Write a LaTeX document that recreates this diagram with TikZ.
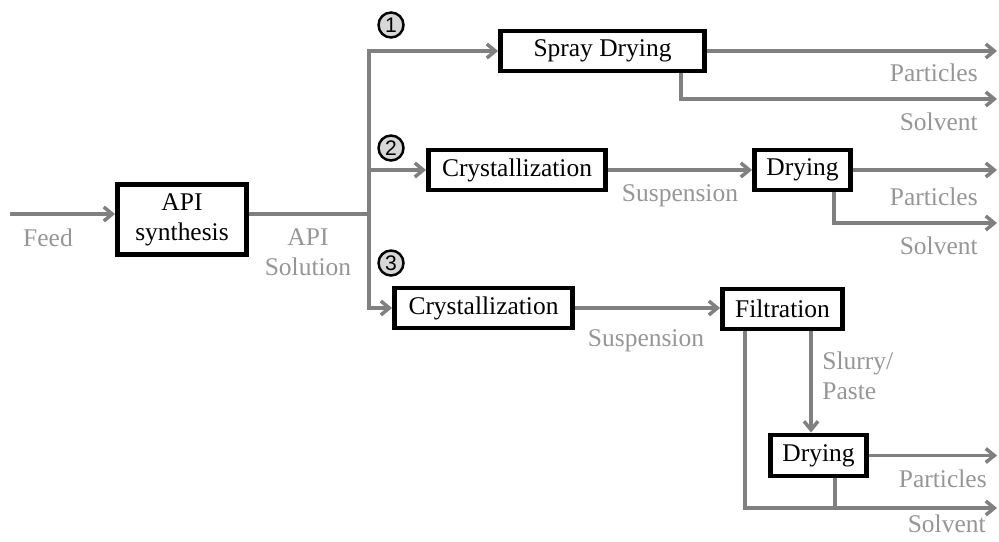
\documentclass[tikz,border=0pt]{standalone}
\usepackage{fontspec}
\setmainfont{Liberation Serif}
\newfontfamily\numfont{Liberation Sans}
\usetikzlibrary{arrows.meta}
\definecolor{pipegray}{RGB}{128,128,128}
\definecolor{labelgray}{RGB}{150,150,150}
\definecolor{roundgray}{RGB}{215,215,215}

\begin{document}
\begin{tikzpicture}[
		x=0.02cm, y=-0.02cm,
		unit/.style={draw, line width=2.8pt, fill=white, inner sep=0pt, minimum height=0.8cm, align=center, font=\fontsize{14.5}{17}\selectfont},
		pipe/.style={draw=pipegray, line width=2pt},
		flow/.style={pipe, -{Straight Barb[length=1.7mm,width=2.8mm]}},
		stream/.style={text=labelgray, inner sep=0pt, align=left, font=\fontsize{14.5}{17}\selectfont},
		route/.style={circle, draw, line width=1.4pt, fill=roundgray, inner sep=0pt, minimum size=0.5cm, font=\numfont\fontsize{12}{12}\selectfont}
		]
		\useasboundingbox (0,0) rectangle (999,541);
		% Synthesis
		\node[unit, minimum width=2.58cm, minimum height=1.4cm] (api) at (182,219.5) {API\\synthesis};
		% Route 1
		\node[unit, minimum width=4.08cm] (spray) at (602.5,51) {Spray Drying};
		% Route 2
		\node[unit, minimum width=3.54cm] (cryst2) at (517,170) {Crystallization};
		\node[unit, minimum width=1.92cm] (dry2) at (802.5,170) {Drying};
		% Route 3
		\node[unit, minimum width=3.56cm] (cryst3) at (483.5,308) {Crystallization};
		\node[unit, minimum width=2.4cm] (filt) at (782.5,309) {Filtration};
		\node[unit, minimum width=1.92cm, minimum height=0.82cm] (dry3) at (818.5,455.5) {Drying};
		
		% Route numbers
		\node[route] (r1) at (391,25) {1};
		\node[route] (r2) at (391,148) {2};
		\node[route] (r3) at (391,263) {3};
		
		% Stream labels
		\node[stream] (feedlbl) at (48,238) {Feed};
		\node[stream, align=center] (sollbl) at (308,252) {API\\Solution};
		\node[stream] (susp2) at (680,196) {Suspension};
		\node[stream] (susp3) at (646,341) {Suspension};
		\node[stream, anchor=west] (slurry) at (822,376) {Slurry/\\Paste};
		\node[stream, anchor=east] (part1) at (978,73) {Particles};
		\node[stream, anchor=east] (solv1) at (978,122) {Solvent};
		\node[stream, anchor=east] (part2) at (978,197) {Particles};
		\node[stream, anchor=east] (solv2) at (978,246) {Solvent};
		\node[stream, anchor=east] (part3) at (987,479) {Particles};
		\node[stream, anchor=east] (solv3) at (986,524) {Solvent};
		
		% Helper points
		\coordinate (feed) at (10,214);
		\coordinate (split) at (369,214);
		\coordinate (out) at (997,0);
		\coordinate (down) at (811,0);
		\coordinate (v1) at (681,99);
		\coordinate (v2) at (834,223);
		\coordinate (v3) at (745,508);
		\coordinate (v4) at (835,508);
		
		% Arrows
		\draw[flow] (feed) -- (feed -| api.west);
		\draw[pipe] (api.east |- split) -- (split);
		\draw[flow] (split) |- (spray.west);
		\draw[flow] (split |- cryst2.west) -- (cryst2.west);
		\draw[flow] (split) |- (cryst3.west);
		\draw[flow] (cryst2) -- (dry2);
		\draw[flow] (cryst3.east) -- (cryst3.east -| filt.west);
		\draw[flow] (filt.south -| down) -- (dry3.north -| down);
		\draw[flow] (spray.east) -- (spray.east -| out);
		\draw[flow] (spray.south -| v1) |- (v1 -| out);
		\draw[flow] (dry2.east) -- (dry2.east -| out);
		\draw[flow] (dry2.south -| v2) |- (v2 -| out);
		\draw[flow] (dry3.east) -- (dry3.east -| out);
		\draw[flow] (filt.south -| v3) |- (v3 -| out);
		\draw[pipe] (dry3.south -| v4) -- (v4);
	\end{tikzpicture}
\end{document}
